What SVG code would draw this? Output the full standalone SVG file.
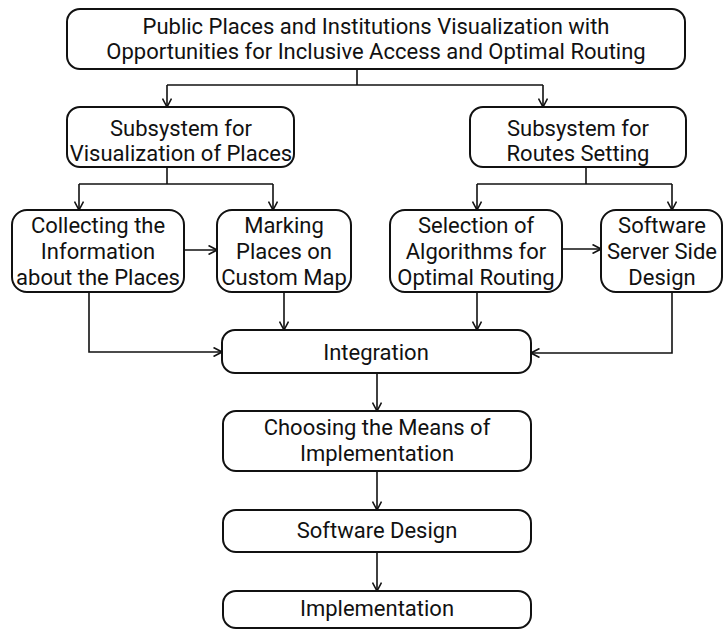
<svg xmlns="http://www.w3.org/2000/svg" width="724" height="630" viewBox="0 0 724 630">
<defs>
<marker id="ah" viewBox="0 0 10 10" refX="9.5" refY="5" markerWidth="10" markerHeight="10" markerUnits="userSpaceOnUse" orient="auto">
<path d="M1,0.5 L9.5,5 L1,9.5" fill="none" stroke="#111" stroke-width="1.6"/>
</marker>
<style>
.box{fill:#fff;stroke:#111;stroke-width:2}
.t{font-family:Roboto,"Liberation Sans",sans-serif;font-size:22px;fill:#111;text-anchor:middle}
.c{fill:none;stroke:#111;stroke-width:1.6}
</style>
</defs>
<rect width="724" height="630" fill="#fff"/>
<g id="n-top">
<rect class="box" x="67" y="9" width="618" height="60" rx="13"/>
<text class="t" x="376" y="34">Public Places and Institutions Visualization with</text>
<text class="t" x="376" y="59">Opportunities for Inclusive Access and Optimal Routing</text>
</g>
<g id="n-subvis">
<rect class="box" x="67" y="107" width="227" height="60" rx="13"/>
<text class="t" x="181" y="136">Subsystem for</text>
<text class="t" x="181" y="161">Visualization of Places</text>
</g>
<g id="n-subroute">
<rect class="box" x="470" y="107" width="216" height="60" rx="13"/>
<text class="t" x="578" y="136">Subsystem for</text>
<text class="t" x="578" y="161">Routes Setting</text>
</g>
<g id="n-collect">
<rect class="box" x="12" y="210" width="172" height="82" rx="15"/>
<text class="t" x="98" y="233">Collecting the</text>
<text class="t" x="98" y="259">Information</text>
<text class="t" x="98" y="285">about the Places</text>
</g>
<g id="n-marking">
<rect class="box" x="217" y="210" width="134" height="82" rx="15"/>
<text class="t" x="284" y="233">Marking</text>
<text class="t" x="284" y="259">Places on</text>
<text class="t" x="284" y="285">Custom Map</text>
</g>
<g id="n-selection">
<rect class="box" x="390" y="210" width="172" height="82" rx="15"/>
<text class="t" x="476" y="233">Selection of</text>
<text class="t" x="476" y="259">Algorithms for</text>
<text class="t" x="476" y="285">Optimal Routing</text>
</g>
<g id="n-server">
<rect class="box" x="601" y="210" width="121" height="82" rx="15"/>
<text class="t" x="662" y="233">Software</text>
<text class="t" x="662" y="259">Server Side</text>
<text class="t" x="662" y="285">Design</text>
</g>
<g id="n-integration">
<rect class="box" x="222" y="330" width="309" height="43" rx="13"/>
<text class="t" x="376" y="360">Integration</text>
</g>
<g id="n-choosing">
<rect class="box" x="223" y="411" width="308" height="60" rx="13"/>
<text class="t" x="377" y="435">Choosing the Means of</text>
<text class="t" x="377" y="461">Implementation</text>
</g>
<g id="n-swdesign">
<rect class="box" x="223" y="510" width="308" height="42" rx="13"/>
<text class="t" x="377" y="538">Software Design</text>
</g>
<g id="n-impl">
<rect class="box" x="223" y="591" width="308" height="37" rx="13"/>
<text class="t" x="377" y="616">Implementation</text>
</g>
<g id="connectors">
<path class="c" d="M357,69 V85"/>
<path class="c" d="M167,85 H543"/>
<path class="c" d="M167,85 V107" marker-end="url(#ah)"/>
<path class="c" d="M543,85 V107" marker-end="url(#ah)"/>
<path class="c" d="M167,167 V184"/>
<path class="c" d="M79,184 H273"/>
<path class="c" d="M79,184 V210" marker-end="url(#ah)"/>
<path class="c" d="M273,184 V210" marker-end="url(#ah)"/>
<path class="c" d="M586,167 V184"/>
<path class="c" d="M477,184 H672"/>
<path class="c" d="M477,184 V210" marker-end="url(#ah)"/>
<path class="c" d="M672,184 V210" marker-end="url(#ah)"/>
<path class="c" d="M184,250 H217" marker-end="url(#ah)"/>
<path class="c" d="M562,249 H601" marker-end="url(#ah)"/>
<path class="c" d="M89,292 V352 H222" marker-end="url(#ah)"/>
<path class="c" d="M284,292 V330" marker-end="url(#ah)"/>
<path class="c" d="M477,292 V330" marker-end="url(#ah)"/>
<path class="c" d="M672,292 V353 H531" marker-end="url(#ah)"/>
<path class="c" d="M377,373 V411" marker-end="url(#ah)"/>
<path class="c" d="M377,471 V510" marker-end="url(#ah)"/>
<path class="c" d="M377,552 V591" marker-end="url(#ah)"/>
</g>
</svg>
